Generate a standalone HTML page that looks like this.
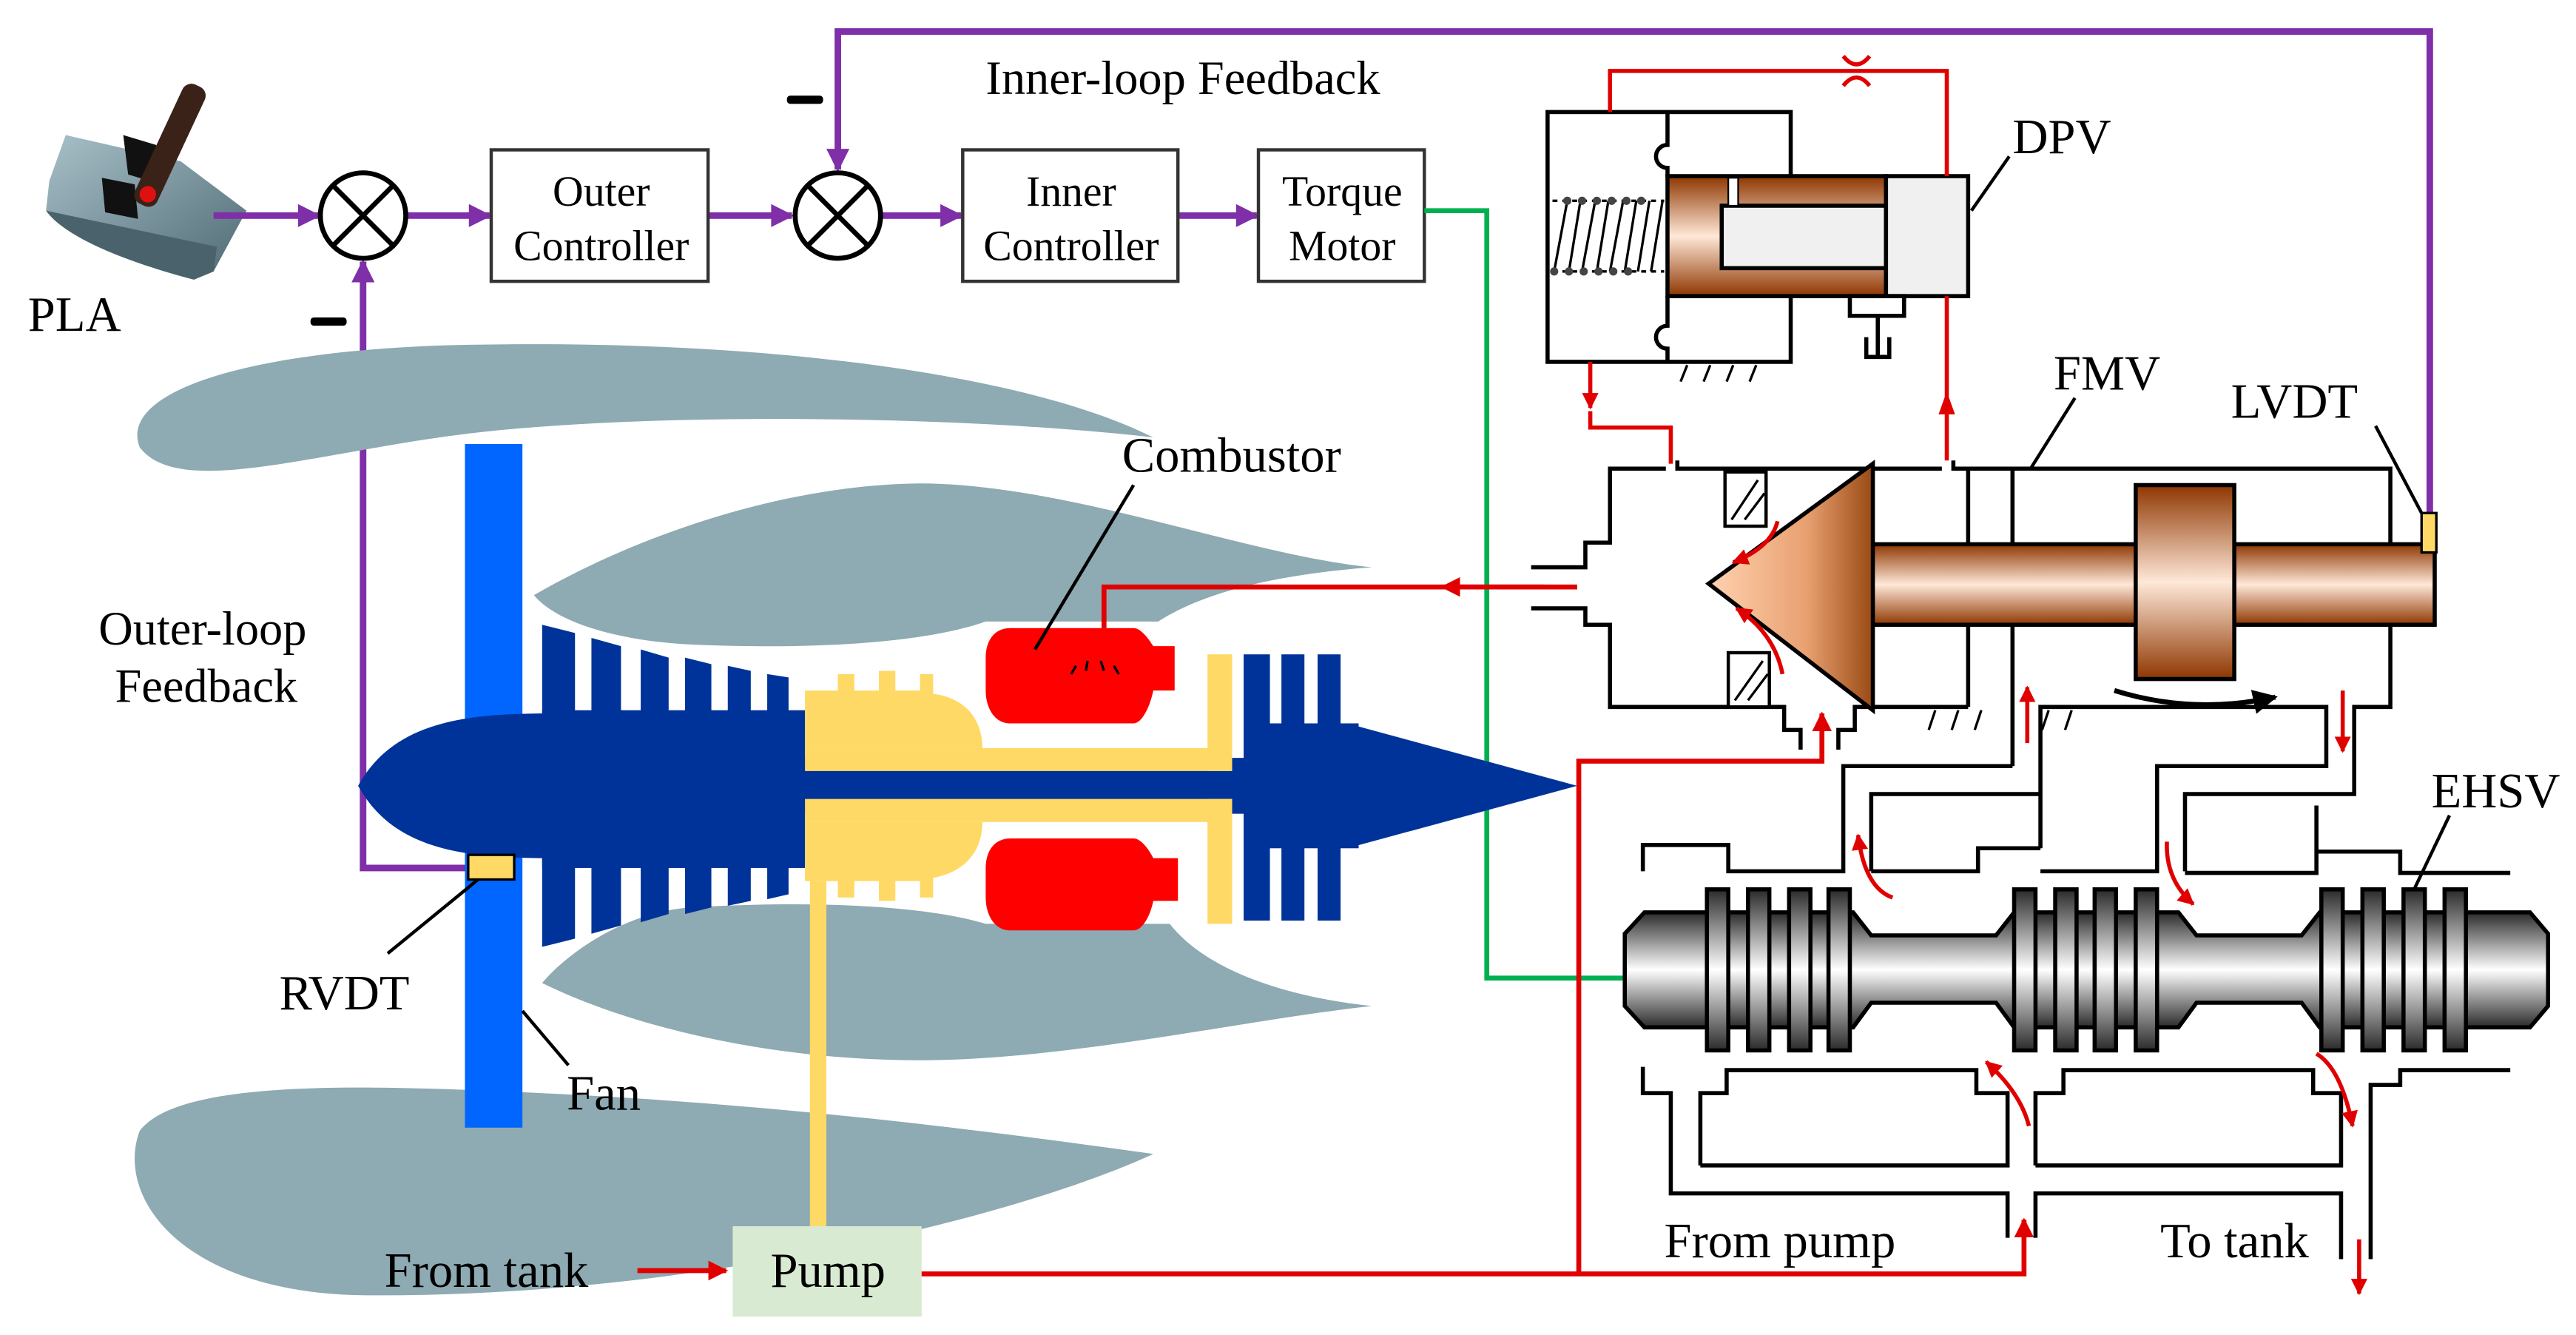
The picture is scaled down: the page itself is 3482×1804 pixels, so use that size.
<!DOCTYPE html>
<html><head><meta charset="utf-8"><style>
html,body{margin:0;padding:0;background:#fff;}
svg{display:block;}
text{font-family:"Liberation Serif",serif;fill:#000;}
</style></head><body>
<svg width="3482" height="1804" viewBox="0 0 1568 812" xmlns="http://www.w3.org/2000/svg">
<defs>
<marker id="ap" viewBox="0 0 10 10" refX="9" refY="5" markerWidth="17" markerHeight="14" orient="auto" markerUnits="userSpaceOnUse"><path d="M0,0L10,5L0,10Z" fill="#7f2fa8"/></marker>
<marker id="ar" viewBox="0 0 10 10" refX="9" refY="5" markerWidth="4" markerHeight="4" orient="auto"><path d="M0,0L10,5L0,10Z" fill="#e00000"/></marker>
<marker id="ak" viewBox="0 0 10 10" refX="9" refY="5" markerWidth="5" markerHeight="5" orient="auto"><path d="M0,0L10,5L0,10Z" fill="#000"/></marker>
<linearGradient id="br" x1="0" y1="0" x2="0" y2="1"><stop offset="0" stop-color="#8e3600"/><stop offset="0.5" stop-color="#ffe8d8"/><stop offset="1" stop-color="#8e3600"/></linearGradient>
<linearGradient id="cone" x1="0" y1="0" x2="1" y2="0"><stop offset="0" stop-color="#ffd2b0"/><stop offset="0.6" stop-color="#e8a070"/><stop offset="1" stop-color="#9a4a14"/></linearGradient>
<linearGradient id="gr" x1="0" y1="0" x2="0" y2="1"><stop offset="0" stop-color="#2a2a2a"/><stop offset="0.5" stop-color="#ffffff"/><stop offset="1" stop-color="#2a2a2a"/></linearGradient>
<linearGradient id="gr2" x1="0" y1="0" x2="1" y2="0"><stop offset="0" stop-color="#333"/><stop offset="0.5" stop-color="#ddd"/><stop offset="1" stop-color="#333"/></linearGradient>
<linearGradient id="pla" x1="0" y1="0" x2="1" y2="1"><stop offset="0" stop-color="#a8c0c8"/><stop offset="1" stop-color="#4f6a74"/></linearGradient>
</defs>

<!-- PLA -->
<path d="M30,110 L40,82 L110,98 L150,128 L130,165 L118,170 L28,128 Z" fill="url(#pla)"/>
<path d="M28,128 C40,145 80,160 118,170 L130,165 L132,150 Z" fill="#4a626c"/>
<path d="M75,82 L95,88 L98,112 L78,106Z" fill="#111"/>
<path d="M62,108 L82,112 L84,133 L64,129Z" fill="#111"/>
<rect x="96" y="48" width="15" height="80" rx="6" transform="rotate(25 103 88)" fill="#3a2218"/>
<circle cx="90" cy="118" r="5" fill="#e01010"/>
<text x="17" y="201" font-size="30">PLA</text>

<!-- Control loop -->
<g fill="none" stroke="#7f2fa8" stroke-width="4">
<line x1="130" y1="131" x2="194" y2="131" marker-end="url(#ap)"/>
<line x1="248" y1="131" x2="298" y2="131" marker-end="url(#ap)"/>
<line x1="431" y1="131" x2="482" y2="131" marker-end="url(#ap)"/>
<line x1="537" y1="131" x2="585" y2="131" marker-end="url(#ap)"/>
<line x1="717" y1="131" x2="765" y2="131" marker-end="url(#ap)"/>
<polyline points="289,528 221,528 221,159" marker-end="url(#ap)"/>
<polyline points="1479,312 1479,19 510,19 510,103" marker-end="url(#ap)"/>
</g>
<g fill="#fff" stroke="#000" stroke-width="3">
<ellipse cx="221" cy="131" rx="26" ry="26"/>
<ellipse cx="510" cy="131" rx="26" ry="26"/>
</g>
<g stroke="#000" stroke-width="3">
<line x1="203" y1="113" x2="239" y2="149"/><line x1="239" y1="113" x2="203" y2="149"/>
<line x1="492" y1="113" x2="528" y2="149"/><line x1="528" y1="113" x2="492" y2="149"/>
</g>
<rect x="189" y="193" width="22" height="5" fill="#000" rx="2"/>
<rect x="479" y="58" width="22" height="5" fill="#000" rx="2"/>
<g fill="#fff" stroke="#333" stroke-width="2">
<rect x="299" y="91" width="132" height="80"/>
<rect x="586" y="91" width="131" height="80"/>
<rect x="766" y="91" width="101" height="80"/>
</g>
<g font-size="26" text-anchor="middle">
<text x="366" y="125">Outer</text><text x="366" y="158">Controller</text>
<text x="652" y="125">Inner</text><text x="652" y="158">Controller</text>
<text x="817" y="125">Torque</text><text x="817" y="158">Motor</text>
</g>
<text x="600" y="57" font-size="29">Inner-loop Feedback</text>
<polyline points="867,128 905,128 905,595 990,595" fill="none" stroke="#00b050" stroke-width="3"/>

<!-- Engine nacelles -->
<g fill="#8eaab3">
<path d="M85,272 C72,238 150,214 270,210 C450,205 620,225 702,266 C600,254 420,250 300,262 C200,272 110,305 85,272Z"/>
<path d="M85,688 C110,655 230,660 350,666 C500,674 630,692 702,702 C620,740 420,790 220,788 C110,786 70,728 85,688Z"/>
<path d="M325,362 C380,330 470,295 560,294 C650,294 760,338 835,345 C770,350 730,362 705,378 L600,378 C560,392 490,395 420,392 C380,390 340,380 325,362Z"/>
<path d="M330,598 C385,625 470,645 560,645 C650,645 760,620 835,612 C770,605 730,585 712,562 L600,562 C560,550 490,548 420,552 C380,555 345,580 330,598Z"/>
</g>
<rect x="283" y="270" width="35" height="416" fill="#0066ff"/>
<g fill="#003399">
<path d="M218,478 C240,438 285,434 335,434 L335,522 C285,522 240,518 218,478Z"/>
<rect x="330" y="432" width="160" height="96"/>
<rect x="480" y="461" width="285" height="34"/>
<path d="M330,380 L350,385 L350,571 L330,576Z"/>
<path d="M360,388 L378,393 L378,563 L360,568Z"/>
<path d="M390,395 L407,400 L407,556 L390,561Z"/>
<path d="M417,400 L433,404 L433,552 L417,556Z"/>
<path d="M443,405 L457,408 L457,548 L443,551Z"/>
<path d="M467,410 L480,412 L480,544 L467,547Z"/>
<rect x="757" y="398" width="16" height="162"/>
<rect x="780" y="398" width="14" height="162"/>
<rect x="802" y="398" width="14" height="162"/>
<rect x="757" y="440" width="70" height="76"/>
<path d="M820,440 L960,478 L820,516Z"/>
</g>
<g fill="#ffd966">
<path d="M490,420 L510,420 L510,410 L520,410 L520,420 L535,420 L535,408 L545,408 L545,420 L560,420 L560,410 L568,410 L568,422 C590,425 598,440 598,455 L490,455Z"/>
<rect x="490" y="455" width="260" height="14"/>
<rect x="735" y="398" width="15" height="71"/>
<path d="M490,500 L598,500 C598,515 590,530 568,534 L568,546 L560,546 L560,536 L545,536 L545,548 L535,548 L535,536 L520,536 L520,546 L510,546 L510,536 L490,536Z"/>
<rect x="490" y="486" width="260" height="14"/>
<rect x="735" y="486" width="15" height="76"/>
<rect x="493" y="536" width="10" height="212"/>
</g>
<g fill="#ff0000">
<path d="M615,382 L690,382 C695,382 700,390 702,393 L715,393 L715,420 L702,420 C700,430 695,440 690,440 L615,440 C605,440 600,430 600,420 L600,400 C600,390 605,382 615,382Z"/>
<path d="M615,510 L690,510 C695,510 700,518 702,522 L717,522 L717,548 L702,548 C700,558 695,566 690,566 L615,566 C605,566 600,556 600,546 L600,528 C600,518 605,510 615,510Z"/>
</g>
<g stroke="#000" stroke-width="1.5"><line x1="655" y1="405" x2="652" y2="410"/><line x1="662" y1="402" x2="661" y2="408"/><line x1="670" y1="402" x2="672" y2="408"/><line x1="678" y1="405" x2="681" y2="410"/></g>
<line x1="690" y1="295" x2="630" y2="395" stroke="#000" stroke-width="2"/>
<text x="683" y="287" font-size="30">Combustor</text>
<polyline points="672,382 672,357 960,357" fill="none" stroke="#e00000" stroke-width="3"/>
<line x1="940" y1="357" x2="878" y2="357" stroke="#e00000" stroke-width="3" marker-end="url(#ar)"/>

<text x="60" y="392" font-size="29">Outer-loop</text>
<text x="70" y="427" font-size="29">Feedback</text>
<rect x="285" y="520" width="28" height="15" fill="#ffd966" stroke="#000" stroke-width="1.5"/>
<line x1="236" y1="580" x2="291" y2="535" stroke="#000" stroke-width="2"/>
<text x="170" y="614" font-size="30">RVDT</text>
<line x1="318" y1="615" x2="346" y2="648" stroke="#000" stroke-width="2"/>
<text x="345" y="675" font-size="30">Fan</text>

<rect x="446" y="746" width="115" height="55" fill="#d9ead3"/>
<text x="504" y="783" font-size="30" text-anchor="middle">Pump</text>
<text x="234" y="783" font-size="30">From tank</text>
<line x1="388" y1="773" x2="442" y2="773" stroke="#e00000" stroke-width="3" marker-end="url(#ar)"/>
<g fill="none" stroke="#e00000" stroke-width="3">
<polyline points="561,775 1232,775 1232,742" marker-end="url(#ar)"/>
<polyline points="961,775 961,463 1109,463 1109,434" marker-end="url(#ar)"/>
</g>

<!-- DPV -->
<g fill="none" stroke="#000" stroke-width="2.5">
<rect x="942" y="68" width="148" height="152" fill="#fff"/>
<path d="M1015,68 L1015,88 A7,7 0 0 0 1015,102 L1015,108"/>
<path d="M1015,180 L1015,198 A7,7 0 0 0 1015,212 L1015,220"/>
</g>
<rect x="1015" y="107" width="133" height="73" fill="url(#br)" stroke="#000" stroke-width="2.5"/>
<rect x="1048" y="125" width="100" height="38" fill="#f0f0f0" stroke="#000" stroke-width="2.5"/>
<rect x="1052" y="108" width="6" height="17" fill="#fff" stroke="#000" stroke-width="1"/>
<rect x="1148" y="107" width="50" height="73" fill="#f0f0f0" stroke="#000" stroke-width="2.5"/>
<g fill="none" stroke="#000" stroke-width="1.5">
<path d="M946,165 L954,122 M955,165 L962,122 M963,165 L971,122 M972,165 L979,122 M980,165 L988,122 M989,165 L996,122 M997,165 L1004,122 M1005,165 L1012,122"/>
<line x1="945" y1="122" x2="1013" y2="122" stroke-dasharray="3,3"/>
<line x1="945" y1="165" x2="1013" y2="165" stroke-dasharray="3,3"/>
</g>
<g fill="#444"><circle cx="954" cy="122" r="2.5"/><circle cx="963" cy="122" r="2.5"/><circle cx="972" cy="122" r="2.5"/><circle cx="981" cy="122" r="2.5"/><circle cx="990" cy="122" r="2.5"/><circle cx="999" cy="122" r="2.5"/><circle cx="946" cy="165" r="2.5"/><circle cx="955" cy="165" r="2.5"/><circle cx="964" cy="165" r="2.5"/><circle cx="973" cy="165" r="2.5"/><circle cx="982" cy="165" r="2.5"/><circle cx="991" cy="165" r="2.5"/></g>
<g fill="none" stroke="#000" stroke-width="2.5">
<rect x="1126" y="180" width="33" height="12"/>
<line x1="1143" y1="192" x2="1143" y2="216"/>
<polyline points="1136,205 1136,217 1150,217 1150,205"/>
</g>
<g stroke="#000" stroke-width="1.5">
<path d="M1023,232 L1027,222 M1037,232 L1041,222 M1051,232 L1055,222 M1065,232 L1069,222"/>
<path d="M1174,444 L1178,432 M1188,444 L1192,432 M1202,444 L1206,432 M1243,444 L1247,432 M1257,444 L1261,432"/>
</g>
<g fill="none" stroke="#e00000" stroke-width="2.5">
<polyline points="980,68 980,43 1185,43 1185,107"/>
<path d="M1122,34 Q1130,44 1138,34 M1122,52 Q1130,42 1138,52"/>
<polyline points="968,220 968,248" marker-end="url(#ar)"/>
<polyline points="968,250 968,260 1017,260 1017,282"/>
<line x1="1185" y1="280" x2="1185" y2="180"/>
</g>
<path d="M1180,252 L1185,238 L1190,252Z" fill="#e00000"/>
<text x="1225" y="93" font-size="30">DPV</text>
<line x1="1200" y1="128" x2="1223" y2="95" stroke="#000" stroke-width="2"/>

<!-- FMV body -->
<g fill="none" stroke="#000" stroke-width="2.5">
<polyline points="1014,285 980,285 980,330 965,330 965,345 932,345"/>
<polyline points="932,370 965,370 965,380 980,380 980,430 1086,430 1086,444 1096,444 1096,456"/>
<polyline points="1021,280 1021,285 1182,285"/>
<polyline points="1189,280 1189,285 1455,285 1455,430 1433,430 1433,483 1330,483 1330,530"/>
<line x1="1198" y1="285" x2="1198" y2="430"/>
<line x1="1225" y1="285" x2="1225" y2="466"/>
<polyline points="1119,456 1119,444 1129,444 1129,430 1198,430"/>
<polyline points="1242,516 1242,430 1416,430 1416,466 1313,466 1313,530 1242,530"/>
<polyline points="1225,466 1122,466 1122,530 1052,530 1052,514 1000,514 1000,530"/>
<polyline points="1139,530 1139,483 1242,483"/>
<polyline points="1242,516 1204,516 1204,530 1139,530"/>
<polyline points="1410,490 1410,531 1330,531"/>
<polyline points="1410,518 1461,518 1461,531 1528,531"/>
</g>
<rect x="1050" y="287" width="25" height="33" fill="#fff" stroke="#000" stroke-width="2"/>
<rect x="1052" y="397" width="25" height="33" fill="#fff" stroke="#000" stroke-width="2"/>
<g stroke="#000" stroke-width="1.5"><path d="M1054,316 L1070,292 M1056,426 L1073,402 M1062,316 L1074,300 M1064,426 L1076,410"/></g>
<rect x="1138" y="331" width="344" height="49" fill="url(#br)" stroke="#000" stroke-width="2.5"/>
<rect x="1300" y="295" width="60" height="118" fill="url(#br)" stroke="#000" stroke-width="2.5"/>
<path d="M1040,355 L1140,282 L1140,432Z" fill="url(#cone)" stroke="#000" stroke-width="2.5"/>
<rect x="1474" y="312" width="9" height="24" fill="#ffd966" stroke="#000" stroke-width="1.5"/>
<path d="M1287,420 Q1335,435 1385,424" fill="none" stroke="#000" stroke-width="3" marker-end="url(#ak)"/>
<g fill="none" stroke="#e00000" stroke-width="2.5">
<path d="M1082,317 Q1078,333 1055,342" marker-end="url(#ar)"/>
<path d="M1085,410 Q1080,385 1057,370" marker-end="url(#ar)"/>
<line x1="1234" y1="452" x2="1234" y2="418" marker-end="url(#ar)"/>
<line x1="1426" y1="420" x2="1426" y2="457" marker-end="url(#ar)"/>
</g>
<text x="1250" y="237" font-size="30">FMV</text>
<line x1="1263" y1="242" x2="1236" y2="285" stroke="#000" stroke-width="2"/>
<text x="1358" y="254" font-size="30">LVDT</text>
<line x1="1446" y1="259" x2="1474" y2="312" stroke="#000" stroke-width="2"/>

<!-- EHSV spool -->
<g stroke="#000" stroke-width="2.5">
<path d="M1001,555 L1128,555 L1139,569 L1215,569 L1226,555 L1326,555 L1337,569 L1401,569 L1412,555 L1540,555 L1551,568 L1551,612 L1540,625 L1412,625 L1401,610 L1337,610 L1326,625 L1226,625 L1215,610 L1139,610 L1128,625 L1001,625 L989,612 L989,568Z" fill="url(#gr)"/>
<g fill="url(#gr)">
<rect x="1039" y="541" width="13" height="98"/><rect x="1064" y="541" width="13" height="98"/><rect x="1089" y="541" width="13" height="98"/><rect x="1113" y="541" width="13" height="98"/>
<rect x="1226" y="541" width="13" height="98"/><rect x="1251" y="541" width="13" height="98"/><rect x="1275" y="541" width="13" height="98"/><rect x="1300" y="541" width="13" height="98"/>
<rect x="1413" y="541" width="13" height="98"/><rect x="1438" y="541" width="13" height="98"/><rect x="1463" y="541" width="13" height="98"/><rect x="1488" y="541" width="13" height="98"/>
</g>
</g>
<g fill="none" stroke="#000" stroke-width="2.5">
<polyline points="1000,649 1000,665 1017,665 1017,726 1222,726 1222,753"/>
<polyline points="1035,709 1035,665 1051,665 1051,651 1203,651 1203,665 1222,665 1222,709 1035,709"/>
<polyline points="1239,753 1239,726 1425,726 1425,766"/>
<polyline points="1239,709 1239,665 1256,665 1256,651 1408,651 1408,665 1425,665 1425,709 1239,709"/>
<polyline points="1443,766 1443,660 1461,660 1461,651 1528,651"/>
</g>
<g fill="none" stroke="#e00000" stroke-width="2.5">
<path d="M1152,546 Q1135,540 1131,508" marker-end="url(#ar)"/>
<path d="M1319,512 Q1318,535 1335,550" marker-end="url(#ar)"/>
<path d="M1235,685 Q1230,665 1209,646" marker-end="url(#ar)"/>
<path d="M1410,641 Q1425,650 1432,685" marker-end="url(#ar)"/>
<line x1="1436" y1="754" x2="1436" y2="787" marker-end="url(#ar)"/>
</g>
<text x="1480" y="491" font-size="30">EHSV</text>
<line x1="1491" y1="496" x2="1469" y2="542" stroke="#000" stroke-width="2"/>
<text x="1013" y="765" font-size="30">From pump</text>
<text x="1315" y="765" font-size="30">To tank</text>
</svg>
</body></html>
